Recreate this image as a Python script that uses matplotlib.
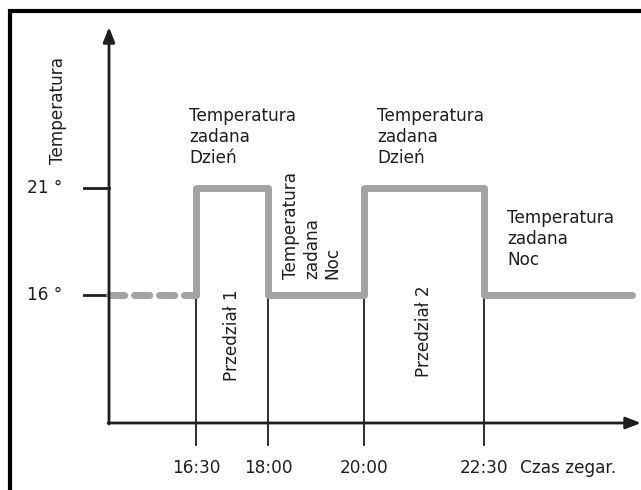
import matplotlib
matplotlib.use("Agg")
import matplotlib.pyplot as plt

# switching times (hours) and their labels
times = [16.5, 18.0, 20.0, 22.5]
time_labels = ["16:30", "18:00", "20:00", "22:30"]

# temperature levels
t_night = 16
t_day = 21
level_labels = ["21 °", "16 °"]

# temperature profile (step line)
prof_x = [16.5, 16.5, 18.0, 18.0, 20.0, 20.0, 22.5, 22.5, 25.58]
prof_y = [16, 21, 21, 16, 16, 21, 21, 16, 16]
dash_x = [14.69, 16.5]
dash_y = [16, 16]

# pixel -> data helpers (layout only)
def px(p):
    return 16.5 + (p - 196) / 48.0

def py(p):
    return 16 + (295 - p) / 21.4

GRAY = "#a3a3a3"
INK = "#1e1e1e"
FS = 12.2
plt.rcParams['font.family'] = ['DejaVu Sans']

fig = plt.figure(figsize=(6.41, 4.90), dpi=100)
ax = fig.add_axes([0, 0, 1, 1])
ax.set_xlim(px(0), px(641))
ax.set_ylim(py(490), py(0))
ax.axis('off')

# frame (top and left)
ax.plot([0.016, 0.016, 1.0], [0.0, 0.978, 0.978], transform=ax.transAxes,
        color='black', lw=3, solid_capstyle='butt', solid_joinstyle='miter')

x0 = px(109)
y0 = py(423)
# axes with arrows
ax.annotate("", xy=(px(641), y0), xytext=(x0 - 0.02, y0),
            arrowprops=dict(arrowstyle='-|>,head_length=0.9,head_width=0.35',
                            color=INK, lw=2, shrinkA=0, shrinkB=0))
ax.annotate("", xy=(x0, py(27)), xytext=(x0, y0 - 0.05),
            arrowprops=dict(arrowstyle='-|>,head_length=0.9,head_width=0.35',
                            color=INK, lw=2, shrinkA=0, shrinkB=0))

# level ticks
for lv, lab in zip([t_day, t_night], level_labels):
    ax.plot([px(84), x0], [lv, lv], color=INK, lw=2)
    ax.text(px(27), lv, lab, ha='left', va='center', fontsize=FS, color=INK)

# time lines and labels
for t, lab in zip(times, time_labels):
    ax.plot([t, t], [t_night, py(445)], color=INK, lw=1.3)
    ax.text(t, py(468), lab, ha='center', va='center', fontsize=FS, color=INK)
ax.text(px(520), py(468), "Czas zegar.", ha='left', va='center', fontsize=FS, color=INK)

# profile
ax.plot(dash_x, dash_y, color=GRAY, lw=5, dashes=(2.2, 1.4), solid_capstyle='round',
        dash_capstyle='round')
ax.plot(prof_x, prof_y, color=GRAY, lw=5, solid_capstyle='round', solid_joinstyle='round')

# labels
ax.text(px(58), py(111), "Temperatura", rotation=90, ha='center', va='center',
        fontsize=FS, color=INK)
day_txt = "Temperatura\nzadana\nDzień"
night_txt = "Temperatura\nzadana\nNoc"
ax.text(px(189), py(107), day_txt, ha='left', va='top', fontsize=FS, color=INK,
        linespacing=1.2)
ax.text(px(377), py(107), day_txt, ha='left', va='top', fontsize=FS, color=INK,
        linespacing=1.2)
ax.text(px(507), py(209), night_txt, ha='left', va='top', fontsize=FS, color=INK,
        linespacing=1.2)
ax.text(px(312), py(279), night_txt, rotation=90, ha='center', va='bottom',
        fontsize=FS, color=INK, linespacing=1.2, multialignment='left')
ax.text(px(232), py(335), "Przedział 1", rotation=90, ha='center', va='center',
        fontsize=FS, color=INK)
ax.text(px(424), py(331), "Przedział 2", rotation=90, ha='center', va='center',
        fontsize=FS, color=INK)

fig.savefig("out.png", dpi=100)
